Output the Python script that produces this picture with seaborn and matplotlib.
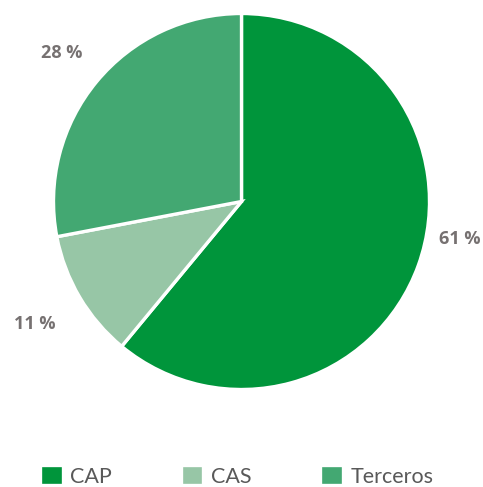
import matplotlib
matplotlib.use("Agg")
import matplotlib.pyplot as plt
import numpy as np
import seaborn as sns

# Share of each category
categories = ["CAP", "CAS", "Terceros"]
shares = [61, 11, 28]
label_texts = ["61 %", "11 %", "28 %"]
colors = ["#00953b", "#97c6a6", "#43a872"]

sns.set_theme(style="white")
plt.rcParams["font.family"] = ["Open Sans", "DejaVu Sans"]

W, H, DPI = 483, 487, 100
fig = plt.figure(figsize=(W / DPI, H / DPI), dpi=DPI)
ax = fig.add_axes([0, 0, 1, 1])

wedges, _ = ax.pie(
    shares,
    colors=colors,
    startangle=90,
    counterclock=False,
    radius=1.0,
    wedgeprops=dict(edgecolor="white", linewidth=2.4),
    normalize=True,
)

# pie centre / radius in pixels, converted to data limits (1 unit = radius)
cx, cy, R = 241.5, 201.5, 188.0
ax.set_aspect("auto")
ax.set_xlim(-cx / R, (W - cx) / R)
ax.set_ylim((cy - H) / R, cy / R)
ax.axis("off")

# data labels placed outside the slices
label_angle_shift = [10, 0, 0]
label_radius = [1.18, 1.28, 1.24]
for w, txt, shift, r in zip(wedges, label_texts, label_angle_shift, label_radius):
    mid = np.deg2rad((w.theta1 + w.theta2) / 2 + shift)
    ax.text(r * np.cos(mid), r * np.sin(mid), txt, ha="center", va="center",
            fontsize=13, fontweight="bold", color="#767171")

leg = fig.legend(
    wedges, categories, loc="center", bbox_to_anchor=(0.49, 1 - 476 / H),
    ncol=3, frameon=False, handlelength=1.05, handleheight=1.05,
    handletextpad=0.35, columnspacing=3.2,
    prop=dict(family=["Lato", "DejaVu Sans"], size=15.5),
)
for t in leg.get_texts():
    t.set_color("#595959")

fig.savefig("out.png", dpi=DPI)
